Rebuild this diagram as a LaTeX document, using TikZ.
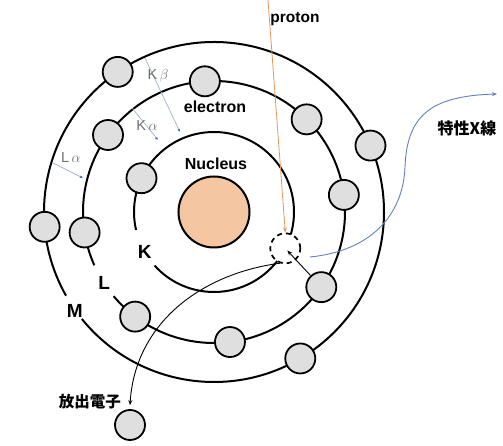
\documentclass[tikz,border=0pt]{standalone}
\usepackage{fontspec}
\setsansfont{Liberation Sans}
\newfontfamily\cjk{Noto Sans CJK JP}
\usepackage{tikz}
\usepackage{xcolor}
\usetikzlibrary{positioning}
\usetikzlibrary{arrows.meta}
\definecolor{nucfill}{RGB}{245,198,162}
\definecolor{elecfill}{RGB}{223,223,223}
\definecolor{protonline}{RGB}{228,150,90}
\definecolor{xrayline}{RGB}{100,128,188}
\definecolor{transline}{RGB}{160,178,208}
\definecolor{transtip}{RGB}{70,110,200}
\definecolor{transtext}{RGB}{110,110,110}
\tikzstyle{nucleus} = [circle, minimum size=71pt, inner sep=0pt, draw=black, line width=2pt, fill=nucfill]
\tikzstyle{electron} = [circle, minimum size=30pt, inner sep=0pt, draw=black, line width=1.8pt, fill=elecfill]
\tikzstyle{hole} = [circle, minimum size=30pt, inner sep=0pt, draw=black, line width=1.7pt, dash pattern=on 5pt off 4pt, fill=white]
\tikzstyle{shell} = [line width=2pt]
\tikzstyle{shellname} = [font=\sffamily\bfseries\fontsize{19}{19}\selectfont]
\tikzstyle{title} = [font=\sffamily\bfseries\fontsize{16}{16}\selectfont]
\tikzstyle{jlabel} = [font=\cjk\bfseries\fontsize{15.5}{16}\selectfont]
\tikzstyle{trans} = [line width=0.7pt, draw=transline, -{Latex[length=3pt, width=3pt, color=transtip]}]
\tikzstyle{translabel} = [text=transtext, font=\sffamily\fontsize{14.5}{15}\selectfont]
\tikzstyle{arrow} = [line width=0.9pt, -{Stealth[length=5pt, width=4pt]}]

\begin{document}
\begin{tikzpicture}[x=1pt, y=1pt]
        \useasboundingbox (-214,-234) rectangle (289,212);

        \draw [shell] (222:80) arc[start angle=222, end angle=553, radius=80pt];
        \draw [shell] (220:131) arc[start angle=220, end angle=564, radius=131pt];
        \draw [shell] (219:170) arc[start angle=219, end angle=569.5, radius=170pt];

        \node (lblK) [shellname] at (210:80) {K};
        \node (lblL) [shellname] at (213:131) {L};
        \node (lblM) [shellname] at (215.5:171) {M};

        \node (nucleus) [nucleus] at (0,0) {};
        \node (nucName) [title] at (2,48) {Nucleus};
        \node (elecName) [title] at (1,105) {electron};

        \node (eK1) [electron] at (155:80) {};
        \node (vac) [hole] at (-27:80) {};

        \node (eL1) [electron] at (94:131) {};
        \node (eL2) [electron] at (45:131) {};
        \node (eL3) [electron] at (7.5:131) {};
        \node (eL4) [electron] at (-35:131) {};
        \node (eL5) [electron] at (-83:131) {};
        \node (eL6) [electron] at (233:131) {};
        \node (eL7) [electron] at (189:131) {};
        \node (eL8) [electron] at (144:131) {};

        \node (eM1) [electron] at (124.5:170) {};
        \node (eM2) [electron] at (23:170) {};
        \node (eM3) [electron] at (-59.5:170) {};
        \node (eM4) [electron] at (185:170) {};

        \node (eOut) [electron] at (-84,-213) {};
        \node (outName) [jlabel] at (-124,-190) {放出電子};

        \coordinate (pStart) at (54,212);
        \node (protName) [title, font=\sffamily\bfseries\fontsize{15.5}{16}\selectfont] at (81,193) {proton};
        \draw [line width=0.8pt, draw=protonline, -{Stealth[length=5pt, width=4pt]}] (pStart) -- (vac.north);

        \coordinate (xStart) at (96,-45);
        \coordinate (xEnd) at (283,118);
        \node (xName) [jlabel, font=\cjk\bfseries\fontsize{16}{16}\selectfont] at (253,84) {特性X線};
        \draw [line width=0.9pt, draw=xrayline, -{Stealth[length=5pt, width=4pt]}] (xStart) .. controls (156,-39) and (189,-4) .. (191,45) .. controls (193,96) and (216,116) .. (xEnd);

        \draw [arrow] (vac.250) .. controls (-14,-62) and (-79,-112) .. ([yshift=4pt]eOut.north);
        \draw [arrow, shorten >=3pt] (eL4) -- (vac.center);

        \coordinate (kbFrom) at (-69,154);
        \coordinate (kbTo) at (-34,80);
        \coordinate (kaFrom) at (-82,104);
        \coordinate (kaTo) at (-56,72);
        \coordinate (laFrom) at (-161,49);
        \coordinate (laTo) at (-131,34);
        \draw [trans] (kbFrom) -- (kbTo);
        \draw [trans] (kaFrom) -- (kaTo);
        \draw [trans] (laFrom) -- (laTo);
        \node (kbName) [translabel] at (-56,136) {K\,$\beta$};
        \node (kaName) [translabel] at (-67,86) {K\,$\alpha$};
        \node (laName) [translabel] at (-143,54) {L\,$\alpha$};
    \end{tikzpicture}
\end{document}
